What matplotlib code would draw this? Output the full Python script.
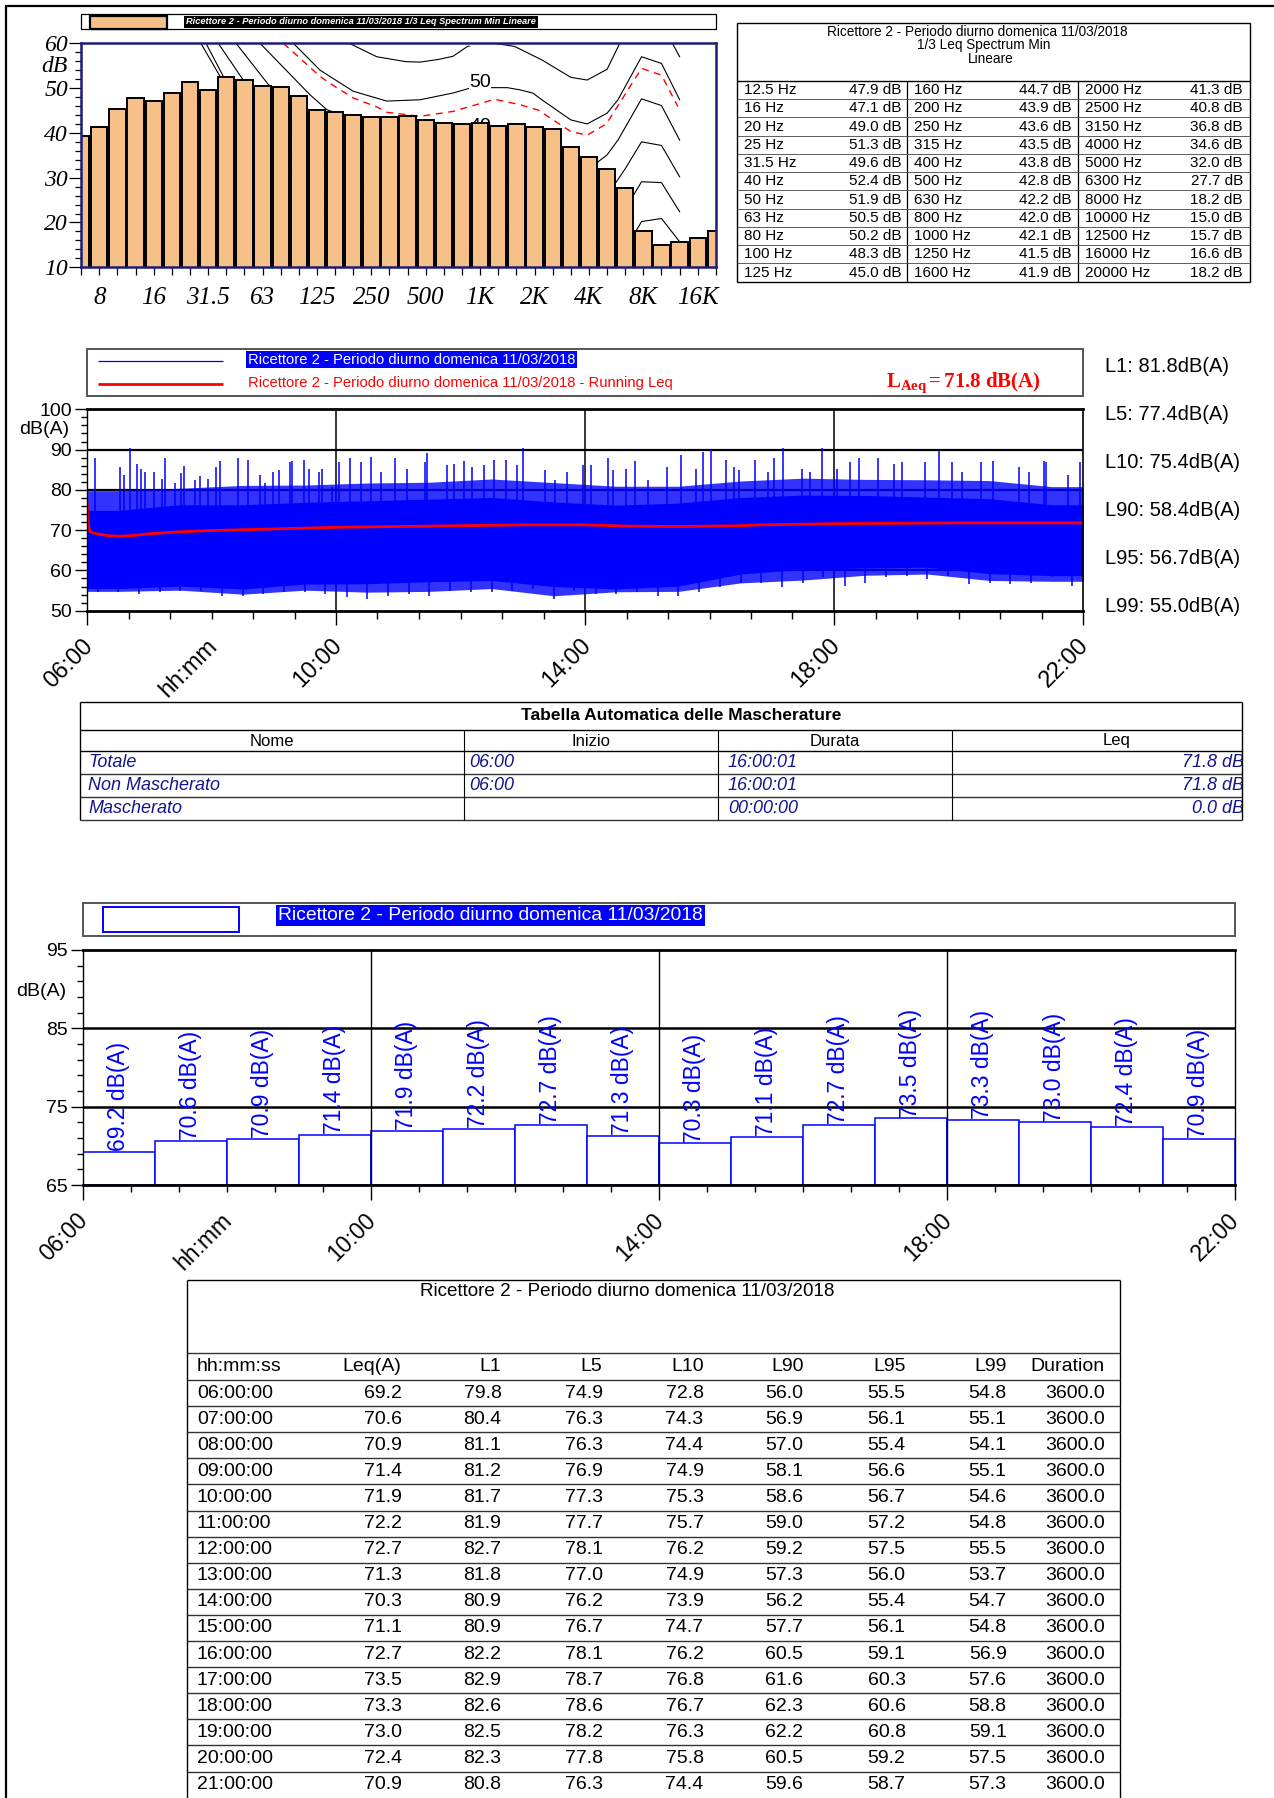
import numpy as np
import matplotlib
matplotlib.use('Agg')
import matplotlib.pyplot as plt
from matplotlib.patches import Rectangle
from matplotlib import font_manager as fm
import matplotlib.transforms as mtransforms

# ------------------------------------------------------------------ data
TITLE = 'Ricettore 2 - Periodo diurno domenica 11/03/2018'

BANDS = ['6.3', '8', '10', '12.5', '16', '20', '25', '31.5', '40', '50', '63', '80',
         '100', '125', '160', '200', '250', '315', '400', '500', '630', '800', '1000',
         '1250', '1600', '2000', '2500', '3150', '4000', '5000', '6300', '8000',
         '10000', '12500', '16000', '20000']
SPECTRUM_DB = [39.4, 41.3, 45.4, 47.9, 47.1, 49.0, 51.3, 49.6, 52.4, 51.9, 50.5, 50.2,
               48.3, 45.0, 44.7, 43.9, 43.6, 43.5, 43.8, 42.8, 42.2, 42.0, 42.1,
               41.5, 41.9, 41.3, 40.8, 36.8, 34.6, 32.0, 27.7, 18.2,
               15.0, 15.7, 16.6, 18.2]
SPEC_TICK_BANDS = ['8', '16', '31.5', '63', '125', '250', '500', '1000', '2000', '4000', '8000', '16000']
SPEC_TICK_LABELS = ['8', '16', '31.5', '63', '125', '250', '500', '1K', '2K', '4K', '8K', '16K']

# loudness contours (x = band index, y = dB)
C00_X = [6.6, 7.66, 9.0, 11.0, 13.0, 15.0, 17.0, 19.0]
C00_Y = [60.0, 52.6, 44.0, 34.0, 25.0, 18.0, 13.0, 9.0]
C10_X = [6.88, 7.84, 9.0, 11.0, 13.0, 15.0, 17.0, 19.0, 22.0, 25.0, 28.0, 29.0, 30.0, 30.9, 32.0, 33.0]
C10_Y = [60.0, 52.6, 46.0, 36.0, 28.0, 21.5, 16.5, 13.0, 10.0, 7.5, 4.5, 8.0, 14.0, 20.2, 20.9, 15.7]
C20_X = [7.56, 8.85, 10.0, 12.0, 14.0, 16.0, 18.0, 20.0, 22.0, 24.0, 26.0, 28.0, 29.0, 30.0, 30.9, 32.0, 33.0]
C20_Y = [60.0, 52.3, 47.0, 39.0, 32.0, 27.0, 23.5, 21.0, 20.0, 19.0, 16.0, 13.5, 17.0, 23.0, 29.1, 28.9, 22.4]
C30_X = [8.54, 10.32, 12.0, 14.0, 16.0, 18.0, 20.0, 22.0, 24.0, 26.0, 28.0, 29.0, 30.0, 30.9, 32.0, 33.0]
C30_Y = [60.0, 50.8, 44.5, 39.0, 35.0, 32.0, 30.8, 30.0, 29.5, 25.5, 22.5, 26.0, 32.0, 38.0, 37.2, 30.2]
C40_X = [9.86, 12.62, 13.54, 15.0, 17.0, 19.0, 22.0, 24.0, 26.0, 28.0, 29.0, 29.6, 30.9, 32.0, 33.0]
C40_Y = [60.0, 48.5, 45.2, 43.0, 41.0, 40.0, 40.5, 39.5, 35.0, 32.0, 35.1, 38.4, 47.6, 46.1, 38.4]
C50_X = [11.7, 13.17, 15.0, 16.85, 18.69, 20.5, 21.45, 22.5, 23.5, 24.2, 24.9, 25.4, 27.0, 27.9,
         29.0, 29.6, 30.9, 32.0, 33.0]
C50_Y = [60.0, 54.0, 49.3, 47.1, 47.4, 48.9, 50.0, 50.1, 50.1, 49.6, 48.9, 47.4, 42.9, 42.0,
         44.4, 47.4, 57.0, 55.5, 47.4]
C60_X = [14.78, 16.3, 17.9, 18.69, 19.7, 20.5, 21.3, 22.0, 22.8, 23.9, 25.4, 27.0, 27.9, 29.0,
         29.7, 30.5, 31.5, 32.6, 33.0]
C60_Y = [60.0, 57.0, 55.9, 55.8, 56.4, 57.1, 59.3, 60.0, 60.0, 59.3, 56.3, 52.4, 51.8, 54.2,
         60.0, 66.0, 68.0, 60.0, 57.0]
LOUD_X = [11.15, 13.17, 13.7, 15.0, 16.3, 16.85, 18.69, 20.5, 22.8, 24.2, 25.2, 27.0, 27.9,
          28.96, 30.9, 32.0, 32.9]
LOUD_Y = [60.0, 52.6, 51.1, 47.8, 45.8, 44.6, 43.7, 44.8, 47.5, 46.3, 45.1, 40.3, 39.5,
          42.0, 54.4, 52.9, 45.9]
CONTOUR_LABELS = ['60', '50', '40']
CONTOUR_LABEL_Y = [61.4, 51.2, 41.5]

# hourly statistics (bottom table)
HOURS = ['06:00:00', '07:00:00', '08:00:00', '09:00:00', '10:00:00', '11:00:00', '12:00:00',
         '13:00:00', '14:00:00', '15:00:00', '16:00:00', '17:00:00', '18:00:00', '19:00:00',
         '20:00:00', '21:00:00']
LEQ = [69.2, 70.6, 70.9, 71.4, 71.9, 72.2, 72.7, 71.3, 70.3, 71.1, 72.7, 73.5, 73.3, 73.0, 72.4, 70.9]
L1 = [79.8, 80.4, 81.1, 81.2, 81.7, 81.9, 82.7, 81.8, 80.9, 80.9, 82.2, 82.9, 82.6, 82.5, 82.3, 80.8]
L5 = [74.9, 76.3, 76.3, 76.9, 77.3, 77.7, 78.1, 77.0, 76.2, 76.7, 78.1, 78.7, 78.6, 78.2, 77.8, 76.3]
L10 = [72.8, 74.3, 74.4, 74.9, 75.3, 75.7, 76.2, 74.9, 73.9, 74.7, 76.2, 76.8, 76.7, 76.3, 75.8, 74.4]
L90 = [56.0, 56.9, 57.0, 58.1, 58.6, 59.0, 59.2, 57.3, 56.2, 57.7, 60.5, 61.6, 62.3, 62.2, 60.5, 59.6]
L95 = [55.5, 56.1, 55.4, 56.6, 56.7, 57.2, 57.5, 56.0, 55.4, 56.1, 59.1, 60.3, 60.6, 60.8, 59.2, 58.7]
L99 = [54.8, 55.1, 54.1, 55.1, 54.6, 54.8, 55.5, 53.7, 54.7, 54.8, 56.9, 57.6, 58.8, 59.1, 57.5, 57.3]
DURATION = [3600.0] * 16

# overall statistics
LSTAT_NAMES = ['L1', 'L5', 'L10', 'L90', 'L95', 'L99']
LSTAT_VALUES = [81.8, 77.4, 75.4, 58.4, 56.7, 55.0]
LAEQ = 71.8

# time history (hours after 06:00, dB(A))
SPIKE_T = [0.00, 0.13, 0.53, 0.60, 0.69, 0.80, 0.87, 0.93, 1.07, 1.21, 1.25, 1.41, 1.51, 1.56,
           1.74, 1.82, 1.95, 2.08, 2.14, 2.42, 2.59, 2.78, 2.86, 2.99, 3.09, 3.26, 3.30, 3.49,
           3.56, 3.72, 3.77, 3.93, 4.05, 4.23, 4.40, 4.56, 4.73, 4.95, 5.14, 5.43, 5.46, 5.79,
           5.89, 6.05, 6.18, 6.37, 6.54, 6.73, 6.90, 7.01, 7.36, 7.52, 7.71, 7.97,
           8.10, 8.37, 8.45, 8.66, 8.81, 9.01, 9.31, 9.54, 9.79, 9.90, 10.03, 10.27, 10.40,
           10.48, 10.73, 10.94, 11.03, 11.18, 11.48, 11.61, 11.81, 12.05, 12.25, 12.40, 12.71,
           12.97, 13.10, 13.46, 13.68, 13.89, 14.05, 14.36, 14.55, 14.97, 15.14, 15.37, 15.41,
           15.76, 15.95]
SPIKE_DB = [88.6, 88.0, 85.7, 83.6, 90.3, 86.5, 85.3, 84.5, 84.5, 82.8, 87.8, 81.6, 84.1, 85.9,
            82.4, 83.4, 82.8, 85.7, 87.1, 88.0, 87.4, 83.6, 81.6, 84.5, 84.9, 87.0, 87.1, 87.5,
            85.3, 84.5, 85.3, 80.7, 87.0, 88.0, 87.0, 88.2, 84.5, 87.8, 85.3, 87.0, 89.2, 86.1,
            86.5, 87.2, 85.7, 86.1, 87.5, 87.4, 86.1, 90.3, 84.9, 82.4, 84.5, 86.1,
            86.1, 87.8, 84.9, 85.3, 87.2, 82.4, 85.7, 88.6, 85.3, 89.4, 89.9, 87.4, 85.7,
            84.9, 87.4, 84.5, 88.0, 90.3, 85.3, 84.5, 90.5, 85.3, 87.0, 87.8, 87.8,
            86.5, 87.0, 87.0, 89.6, 87.0, 84.5, 87.0, 87.2, 85.7, 84.5, 87.1, 87.0,
            83.6, 87.0]
DIP_T = [0.17, 0.50, 0.83, 1.17, 1.50, 1.83, 2.17, 2.50, 2.83, 3.17, 3.50, 3.83, 4.17, 4.50,
         4.83, 5.17, 5.50, 5.83, 6.17, 6.50, 6.83, 7.17, 7.50, 7.83, 8.17, 8.50, 8.83, 9.17,
         9.50, 9.83, 10.17, 10.50, 10.83, 11.17, 11.50, 11.83, 12.17, 12.50, 12.83, 13.17,
         13.50, 13.83, 14.17, 14.50, 14.83, 15.17, 15.50, 15.83]
DIP_DB = [54.6, 54.6, 54.2, 54.6, 55.0, 55.0, 53.7, 53.7, 54.2, 54.6, 54.6, 54.2, 53.3, 52.9,
          53.7, 54.2, 53.7, 55.0, 54.6, 54.6, 55.0, 55.4, 52.9, 55.0, 54.2, 54.2, 54.6, 53.7,
          53.7, 54.6, 55.8, 57.0, 57.0, 55.8, 57.0, 58.3, 56.2, 57.0, 58.3, 58.7, 57.9, 58.7,
          56.7, 57.0, 56.6, 57.0, 58.3, 56.2]
RUN_T = [0.0, 0.02, 0.05, 0.1, 0.2, 0.35, 0.5, 0.7, 1.0, 1.5, 2.0, 2.5, 3.0, 3.5, 4.0, 5.0,
         6.0, 7.0, 8.0, 8.7, 9.5, 10.5, 10.8, 12.0, 13.0, 14.0, 16.0]
RUN_DB = [77.0, 71.5, 69.6, 69.3, 69.0, 68.6, 68.5, 68.6, 69.1, 69.6, 69.9, 70.1, 70.3, 70.5,
          70.7, 70.9, 71.1, 71.3, 71.3, 71.0, 70.9, 71.1, 71.3, 71.6, 71.7, 71.8, 71.8]

TIME_TICKS = [0, 2, 4, 8, 12, 16]
TIME_TICK_LABELS = ['06:00', 'hh:mm', '10:00', '14:00', '18:00', '22:00']

MASK_NAMES = ['Totale', 'Non Mascherato', 'Mascherato']
MASK_START = ['06:00', '06:00', '']
MASK_DUR = ['16:00:01', '16:00:01', '00:00:00']
MASK_LEQ = [71.8, 71.8, 0.0]

# ------------------------------------------------------------------ fonts
def has_font(name):
    try:
        fm.findfont(fm.FontProperties(family=name), fallback_to_default=False)
        return True
    except Exception:
        return False

SANS = 'Liberation Sans' if has_font('Liberation Sans') else 'DejaVu Sans'
SERIF = 'Liberation Serif' if has_font('Liberation Serif') else 'DejaVu Serif'
NARROW = 'Liberation Sans Narrow' if has_font('Liberation Sans Narrow') else None


def narrow(size):
    if NARROW:
        return dict(family=[NARROW, 'DejaVu Sans'], fontsize=size)
    return dict(family=[SANS, 'DejaVu Sans'], fontsize=size * 0.82)


plt.rcParams['mathtext.fontset'] = 'custom'
plt.rcParams['mathtext.rm'] = SERIF
plt.rcParams['mathtext.bf'] = SERIF + ':bold'
plt.rcParams['mathtext.it'] = SERIF + ':italic'

# ------------------------------------------------------------------ figure
W, H = 1274, 1798
DPI = 100
fig = plt.figure(figsize=(W / DPI, H / DPI), dpi=DPI)
fig.patch.set_facecolor('white')


def rect(x0, y0, x1, y1):
    return [x0 / W, 1 - y1 / H, (x1 - x0) / W, (y1 - y0) / H]


ov = fig.add_axes([0, 0, 1, 1], zorder=0)
ov.set_xlim(0, W)
ov.set_ylim(H, 0)
ov.axis('off')


def box(x0, y0, x1, y1, ec='black', lw=1.0, fc=None, z=1):
    ov.add_patch(Rectangle((x0, y0), x1 - x0, y1 - y0, fill=fc is not None,
                           facecolor=fc if fc else 'none', edgecolor=ec, lw=lw, zorder=z))


def hl(y, x0, x1, c='black', lw=1.0, z=1):
    ov.plot([x0, x1], [y, y], color=c, lw=lw, zorder=z, solid_capstyle='butt')


def vl(x, y0, y1, c='black', lw=1.0, z=1):
    ov.plot([x, x], [y0, y1], color=c, lw=lw, zorder=z, solid_capstyle='butt')


def T(x, y, s, **kw):
    kw.setdefault('family', [SANS, 'DejaVu Sans'])
    kw.setdefault('va', 'center')
    return ov.text(x, y, s, **kw)


# page frame
vl(5.7, 5.7, H, lw=1.6)
hl(5.7, 5.0, W, lw=1.6)

BAR_FACE = '#F7C089'

# ================================================================= spectrum
box(81, 14.3, 716, 29.3, ec='black', lw=0.9)
box(90, 16, 167, 28.5, ec='black', lw=1.6, fc=BAR_FACE, z=2)
T(186, 21.8, TITLE + ' 1/3 Leq Spectrum Min Lineare', color='white', fontweight='bold',
  fontstyle='italic', ha='left', bbox=dict(fc='black', ec='none', pad=1.2), **narrow(8.1))

ax1 = fig.add_axes(rect(81.2, 43.3, 715.9, 267.3), zorder=2)
idx = np.arange(len(BANDS))
for xs, ys in [(C00_X, C00_Y), (C10_X, C10_Y), (C20_X, C20_Y), (C30_X, C30_Y),
               (C40_X, C40_Y), (C50_X, C50_Y), (C60_X, C60_Y)]:
    ax1.plot(xs, ys, color='black', lw=0.8, zorder=1)
ax1.plot(LOUD_X, LOUD_Y, color='red', lw=1.0, ls=(0, (5, 4)), zorder=1)
k1000 = BANDS.index('1000')
for lab, ly in zip(CONTOUR_LABELS, CONTOUR_LABEL_Y):
    ax1.text(k1000, ly, lab, ha='center', va='center', fontsize=14, family=SANS, zorder=1.5,
             bbox=dict(fc='white', ec='none', pad=0.3), clip_on=True)
ax1.bar(idx, SPECTRUM_DB, width=0.9, color=BAR_FACE, edgecolor='black', lw=1.4, zorder=2)
ax1.set_xlim(0, len(BANDS) - 1)
ax1.set_ylim(10, 60)
major = [BANDS.index(b) for b in SPEC_TICK_BANDS]
ax1.set_xticks(major)
ax1.set_xticklabels(SPEC_TICK_LABELS, fontsize=18, family=SERIF, style='italic')
ax1.set_xticks(idx, minor=True)
ax1.tick_params(axis='x', which='both', length=5.5, width=0.9, direction='out', pad=9)
yt = np.arange(10, 61, 10)
ax1.set_yticks(yt)
ax1.set_yticklabels([str(v) for v in yt], fontsize=17, family=SERIF, style='italic')
ax1.set_yticks(np.arange(10, 61, 2), minor=True)
ax1.tick_params(axis='y', which='major', length=9, width=0.9, pad=0.5)
ax1.tick_params(axis='y', which='minor', length=4.5, width=0.9)
for s in ax1.spines.values():
    s.set_color('#1c1c7a')
    s.set_linewidth(1.8)
T(68, 67, 'dB', ha='right', fontsize=17, family=SERIF, fontstyle='italic')

# spectrum table
box(737, 22.7, 1249.5, 281.7, lw=1.0)
T(977, 31.5, TITLE, ha='center', fontsize=9.8)
T(984, 45.0, '1/3 Leq Spectrum Min', ha='center', fontsize=9.8)
T(991, 59.0, 'Lineare', ha='center', fontsize=9.8)
hl(81, 737, 1249.5, lw=1.0)
vl(907, 81, 281.7, lw=0.9)
vl(1078, 81, 281.7, lw=0.9)
NROW = 11
pitch = (281.7 - 81) / NROW
for k in range(1, NROW):
    hl(81 + pitch * k, 737, 1249.5, c='#444444', lw=0.6)
lab_x = [743.9, 914, 1084.6]
val_x = [901.8, 1071.8, 1242.8]
for j, (b, v) in enumerate(zip(BANDS[3:], SPECTRUM_DB[3:])):
    col, row = divmod(j, NROW)
    yc = 81 + pitch * (row + 0.5)
    T(lab_x[col], yc, f'{b} Hz', ha='left', fontsize=11)
    T(val_x[col], yc, f'{v:.1f} dB', ha='right', fontsize=11)


# ================================================================= time history
def rot_labels(ax, xs, labels, dx, dy, size):
    base = mtransforms.blended_transform_factory(ax.transData, ax.transAxes)
    off = mtransforms.ScaledTranslation(dx / DPI, -dy / DPI, fig.dpi_scale_trans)
    for x, l in zip(xs, labels):
        ax.text(x, 0, l, transform=base + off, rotation=45, ha='right', va='top',
                rotation_mode='anchor', fontsize=size, family=[SANS, 'DejaVu Sans'],
                clip_on=False)


box(87, 349.3, 1083, 396, ec='#555555', lw=1.4)
hl(360.7, 97.5, 223.4, c='blue', lw=0.9, z=2)
hl(384, 97.5, 223.4, c='red', lw=2.0, z=2)
T(248, 359.8, TITLE, ha='left', color='white', fontsize=10.6,
  bbox=dict(fc='#0000FF', ec='none', pad=1.2))
T(248, 383.5, TITLE + ' - Running Leq', ha='left', color='red', fontsize=10.6)
T(886, 383, r'$\mathbf{L}_{\mathbf{Aeq}}\mathbf{=' + f'{LAEQ:.1f}' + r'\ dB(A)}$',
  ha='left', color='red', fontsize=15)
for i, (n, v) in enumerate(zip(LSTAT_NAMES, LSTAT_VALUES)):
    T(1105, 366.7 + i * 48.0, f'{n}: {v:.1f}dB(A)', ha='left', fontsize=14.5)

ax2 = fig.add_axes(rect(87, 409.3, 1083, 610.7), zorder=2)
ax2.set_xlim(0, 16)
ax2.set_ylim(50, 100)
for y in (60, 70, 80, 90):
    ax2.axhline(y, color='black', lw=1.6, zorder=0.5)
for x in (4, 8, 12):
    ax2.axvline(x, color='black', lw=1.1, zorder=0.5)
# hourly percentile envelopes placed at the middle of each hour
hx = [0.0] + [k + 0.5 for k in range(len(HOURS))] + [float(len(HOURS))]


def ext(v):
    return [v[0]] + list(v) + [v[-1]]


ax2.fill_between(hx, ext(L99), ext(L1), color='#0000FF', alpha=0.8, lw=0, zorder=1)
ax2.fill_between(hx, ext(L95), ext(L5), color='#0000FF', lw=0, zorder=1.1)
ax2.vlines(SPIKE_T, 74, SPIKE_DB, color='#0000FF', lw=1.1, zorder=1.2)
ax2.vlines(DIP_T, 64, DIP_DB, color='#0000FF', lw=1.1, zorder=1.2)
ax2.plot(RUN_T, RUN_DB, color='red', lw=2.0, zorder=2)
ax2.set_xticks(TIME_TICKS)
ax2.set_xticklabels([''] * len(TIME_TICKS))
ax2.set_xticks(np.arange(0, 16.01, 2 / 3), minor=True)
ax2.tick_params(axis='x', which='major', length=10, width=1.0)
ax2.tick_params(axis='x', which='minor', length=5.5, width=1.0)
ax2.xaxis.get_major_ticks()[1].tick1line.set_markersize(5.5)
yt2 = np.arange(50, 101, 10)
ax2.set_yticks(yt2)
ax2.set_yticklabels([str(v) for v in yt2], fontsize=14, family=SANS)
ax2.set_yticks(np.arange(50, 101, 2), minor=True)
ax2.tick_params(axis='y', which='major', length=8.5, width=1.0, pad=2.5)
ax2.tick_params(axis='y', which='minor', length=4.5, width=1.0)
for side in ('top', 'bottom'):
    ax2.spines[side].set_linewidth(2.0)
ax2.spines['left'].set_linewidth(1.0)
ax2.spines['right'].set_linewidth(1.2)
rot_labels(ax2, TIME_TICKS, TIME_TICK_LABELS, -5, 24, 17)
T(69, 430, 'dB(A)', ha='right', fontsize=14)

# ================================================================= mask table
TR = 1242
hl(701.7, 80, TR, lw=1.0)
hl(730, 80, TR, lw=1.0)
hl(751, 80, TR, lw=1.0)
hl(774, 80, TR, c='#333333', lw=1.0)
hl(797, 80, TR, c='#333333', lw=1.0)
hl(819.5, 80, TR, c='#333333', lw=1.0)
vl(80, 701.7, 819.5, lw=1.0)
vl(TR, 701.7, 819.5, lw=1.0)
for x in (464, 718, 952):
    vl(x, 730, 819.5, lw=0.8)
axm = fig.add_axes(rect(80, 701.7, TR, 819.5), zorder=1)
axm.set_xlim(80, TR)
axm.set_ylim(819.5, 701.7)
axm.axis('off')
axm.text(681, 716, 'Tabella Automatica delle Mascherature', ha='center', va='center',
         fontsize=12.5, fontweight='bold', family=SANS)
for x, s in zip((272, 591, 835, 1117), ('Nome', 'Inizio', 'Durata', 'Leq')):
    axm.text(x, 741, s, ha='center', va='center', fontsize=12, family=SANS)
NAVY = '#14148c'
for i in range(3):
    yc = 762.5 + 22.8 * i
    kw = dict(va='center', fontsize=13, family=SANS, style='italic', color=NAVY, clip_on=True)
    axm.text(88, yc, MASK_NAMES[i], ha='left', **kw)
    axm.text(469, yc, MASK_START[i], ha='left', **kw)
    axm.text(728, yc, MASK_DUR[i], ha='left', **kw)
    axm.text(1268, yc, f'{MASK_LEQ[i]:.1f} dB(A)', ha='right', **kw)

# ================================================================= hourly bars
box(83, 902.7, 1235, 936, ec='#555555', lw=1.4)
box(103, 906.7, 239, 932.3, ec='#0000FF', lw=1.4, fc='white', z=2)
T(278, 915.5, TITLE, ha='left', color='white',
  bbox=dict(fc='#0000FF', ec='none', pad=1.5), **narrow(16.9))

ax3 = fig.add_axes(rect(83, 950, 1235, 1185), zorder=2)
ax3.set_xlim(0, 16)
ax3.set_ylim(65, 95)
for y in (75, 85):
    ax3.axhline(y, color='black', lw=1.8, zorder=0.5)
for x in (4, 8, 12):
    ax3.axvline(x, color='black', lw=1.0, zorder=3)
hc = np.arange(len(LEQ)) + 0.5
ax3.bar(hc, np.array(LEQ) - 65, bottom=65, width=1.0, facecolor='white',
        edgecolor='#0000FF', lw=1.1, zorder=2)
for x, v in zip(hc, LEQ):
    ax3.text(x, v + 0.1, f'{v:.1f} dB(A)', rotation=90, ha='center', va='bottom',
             color='#0000FF', fontsize=16.5, family=SANS, zorder=4)
ax3.set_xticks(TIME_TICKS)
ax3.set_xticklabels([''] * len(TIME_TICKS))
ax3.set_xticks(np.arange(0, 16.01, 2 / 3), minor=True)
ax3.tick_params(axis='x', which='major', length=11, width=1.0)
ax3.tick_params(axis='x', which='minor', length=5, width=1.0)
ax3.xaxis.get_major_ticks()[1].tick1line.set_markersize(5)
yt3 = [65, 75, 85, 95]
ax3.set_yticks(yt3)
ax3.set_yticklabels([str(v) for v in yt3], fontsize=14, family=SANS)
ax3.set_yticks(np.arange(65, 96, 2), minor=True)
ax3.tick_params(axis='y', which='major', length=8.5, width=1.0, pad=2.5)
ax3.tick_params(axis='y', which='minor', length=4.5, width=1.0)
for side in ('top', 'bottom'):
    ax3.spines[side].set_linewidth(2.0)
ax3.spines['left'].set_linewidth(1.0)
ax3.spines['right'].set_linewidth(1.0)
rot_labels(ax3, TIME_TICKS, TIME_TICK_LABELS, -7, 24, 16.5)
T(66, 991.7, 'dB(A)', ha='right', fontsize=14)

# ================================================================= bottom table
hl(1280, 187, 1120, lw=1.0)
vl(187, 1280, H, lw=1.0)
vl(1120, 1280, H, lw=1.0)
hl(1352.7, 187, 1120, c='#333333', lw=1.0)
T(627, 1292, TITLE, ha='center', fontsize=13.6)
COLS = ['hh:mm:ss', 'Leq(A)', 'L1', 'L5', 'L10', 'L90', 'L95', 'L99', 'Duration']
COL_X = [197, 401.7, 501.5, 602.5, 703.6, 803.4, 905.6, 1006.7, 1104.7]
for j, (c, x) in enumerate(zip(COLS, COL_X)):
    T(x, 1366.2, c, ha='left' if j == 0 else 'right', fontsize=14)
RP = 26.1
for k in range(len(HOURS)):
    hl(1380 + RP * k, 187, 1120, c='#333333', lw=1.0)
for k in range(len(HOURS)):
    yc = 1380 + RP * (k + 0.5)
    vals = [HOURS[k], f'{LEQ[k]:.1f}', f'{L1[k]:.1f}', f'{L5[k]:.1f}', f'{L10[k]:.1f}',
            f'{L90[k]:.1f}', f'{L95[k]:.1f}', f'{L99[k]:.1f}', f'{DURATION[k]:.1f}']
    for j, (s, x) in enumerate(zip(vals, COL_X)):
        T(x, yc, s, ha='left' if j == 0 else 'right', fontsize=14)

fig.savefig('out.png', dpi=DPI)
